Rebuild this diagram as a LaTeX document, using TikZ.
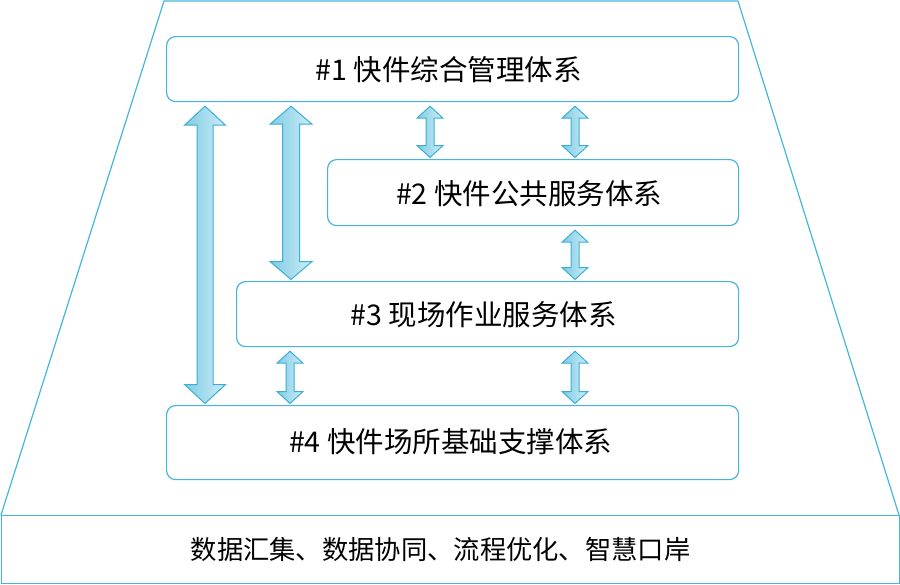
\documentclass[tikz,border=0pt]{standalone}
\usepackage{fontspec}
\setmainfont{Noto Sans CJK SC}
\usetikzlibrary{calc}
\definecolor{lineblue}{HTML}{45B6DA}
\definecolor{arrline}{HTML}{3AAED6}
\definecolor{arrdark}{HTML}{80CCE4}
\definecolor{arrlight}{HTML}{CDEDF6}
\tikzset{
  layerbox/.style={draw=lineblue, line width=1.2pt, rounded corners=9pt, anchor=north west, inner sep=0pt},
  layertext/.style={font=\fontsize{28.5}{32}\selectfont, text=black},
  basetext/.style={font=\fontsize{26.3}{30}\selectfont, text=black},
  blockarrow/.style={draw=arrline, line width=1pt, left color=arrdark, right color=arrlight, line join=miter},
  outline/.style={draw=lineblue, line width=1.2pt}
}
% x, upper node, lower node, half shaft, half head, head length
\newcommand\dbarrow[6]{%
  \path[blockarrow] let \p1=(#2.south), \p2=(#3.north) in
    (#1pt,\y1-4pt) -- (#1pt+#5pt,\y1-4pt-#6pt) -- (#1pt+#4pt,\y1-4pt-#6pt)
    -- (#1pt+#4pt,\y2+1.5pt+#6pt) -- (#1pt+#5pt,\y2+1.5pt+#6pt) -- (#1pt,\y2+1.5pt)
    -- (#1pt-#5pt,\y2+1.5pt+#6pt) -- (#1pt-#4pt,\y2+1.5pt+#6pt)
    -- (#1pt-#4pt,\y1-4pt-#6pt) -- (#1pt-#5pt,\y1-4pt-#6pt) -- cycle;}
\begin{document}
\begin{tikzpicture}[x=1pt,y=-1pt]
\useasboundingbox (0,0) rectangle (900,584);
% outer trapezoid
\draw[outline] (1,515) -- (164,1) -- (738,1) -- (899,515);
\node[outline, anchor=north west, minimum width=898pt, minimum height=68pt, inner sep=0pt] (base) at (1,515) {};
\node[basetext] (bt) at ($(base.center)+(-10,0)$) {数据汇集、数据协同、流程优化、智慧口岸};
% layer boxes
\node[layerbox, minimum width=572pt, minimum height=65pt] (b1) at (166,36) {};
\node[layerbox, minimum width=411pt, minimum height=66pt] (b2) at (327,159) {};
\node[layerbox, minimum width=502pt, minimum height=65pt] (b3) at (236,281) {};
\node[layerbox, minimum width=572pt, minimum height=74pt] (b4) at (166,405) {};
\node[layertext] (t1) at ($(b1.center)+(-4,1)$) {\#1 快件综合管理体系};
\node[layertext] (t2) at ($(b2.center)+(-4,1)$) {\#2 快件公共服务体系};
\node[layertext] (t3) at ($(b3.center)+(-4,1)$) {\#3 现场作业服务体系};
\node[layertext] (t4) at ($(b4.center)+(-2,-1)$) {\#4 快件场所基础支撑体系};
% arrows
\dbarrow{205}{b1}{b4}{8}{20.5}{19}
\dbarrow{291}{b1}{b3}{8.5}{21}{18}
\dbarrow{430}{b1}{b2}{4}{13}{12}
\dbarrow{575}{b1}{b2}{4}{13}{12}
\dbarrow{575}{b2}{b3}{4}{13}{12}
\dbarrow{290}{b3}{b4}{4}{13}{12}
\dbarrow{575}{b3}{b4}{4}{13}{12}
\end{tikzpicture}
\end{document}
